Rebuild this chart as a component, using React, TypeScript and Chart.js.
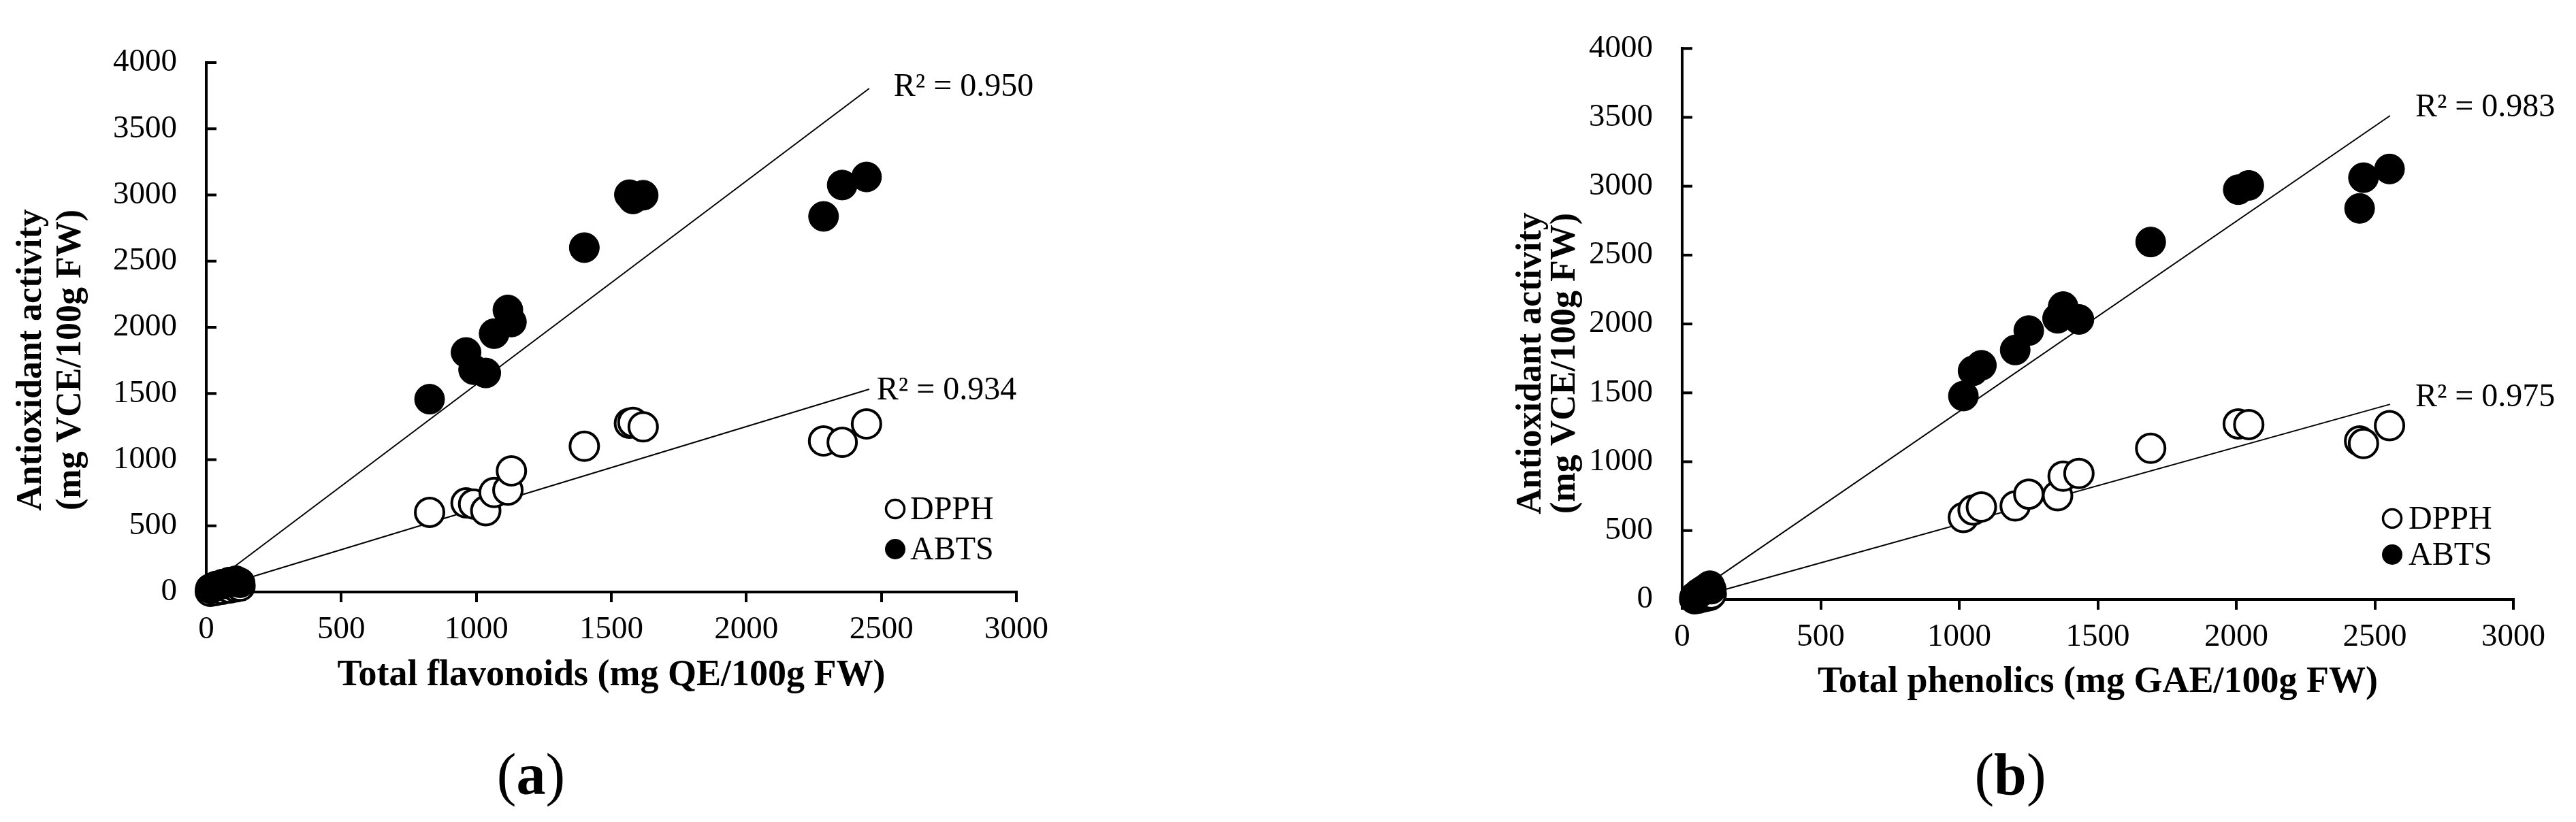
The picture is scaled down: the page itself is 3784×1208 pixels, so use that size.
import React, { useEffect, useRef } from "react";
import { Chart, registerables } from "chart.js";

Chart.register(...registerables);

// ---------------- DATA ----------------
// Panel (a): Total flavonoids (mg QE/100g FW)
const flavX = [15, 35, 60, 85, 110, 125, 827, 962, 990, 1035, 1066, 1117, 1130, 1400, 1567, 1580, 1618, 2286, 2355, 2445];
const flavDPPH = [5, 12, 20, 30, 38, 45, 602, 673, 665, 614, 752, 770, 915, 1101, 1275, 1282, 1248, 1141, 1131, 1270];
const flavABTS = [25, 45, 60, 75, 85, 70, 1457, 1810, 1680, 1655, 1952, 2131, 2040, 2602, 3002, 2970, 2998, 2838, 3075, 3136];
const flavTrendX = [15, 2455];
const flavTrendDPPH = [19, 1532];
const flavTrendABTS = [55, 3805];
const flavR2 = ["0.934", "0.950"]; // DPPH, ABTS

// Panel (b): Total phenolics (mg GAE/100g FW)
const phenX = [45, 60, 75, 90, 100, 105, 1015, 1050, 1080, 1202, 1251, 1355, 1375, 1432, 1691, 2007, 2045, 2445, 2459, 2553];
const phenDPPH = [5, 10, 18, 25, 30, 40, 595, 650, 672, 679, 765, 753, 895, 915, 1098, 1275, 1270, 1151, 1132, 1262];
const phenABTS = [20, 45, 65, 85, 100, 75, 1477, 1660, 1700, 1811, 1952, 2041, 2126, 2033, 2595, 2975, 3006, 2839, 3062, 3125];
const phenTrendX = [45, 2555];
const phenTrendDPPH = [11, 1417];
const phenTrendABTS = [46, 3512];
const phenR2 = ["0.975", "0.983"]; // DPPH, ABTS

const seriesNames = ["DPPH", "ABTS"];
const xTickValues = [0, 500, 1000, 1500, 2000, 2500, 3000];
const yTickValues = [0, 500, 1000, 1500, 2000, 2500, 3000, 3500, 4000];
const yTitleLines = ["Antioxidant activity", "(mg VCE/100g FW)"];
const xTitleA = "Total flavonoids (mg QE/100g FW)";
const xTitleB = "Total phenolics (mg GAE/100g FW)";
const panelLabels = ["a", "b"];

// ---------------- STYLE / LAYOUT ----------------
const FONT = '"Liberation Serif", "Times New Roman", serif';
const H = 1208;

type PanelCfg = {
  left: number;
  width: number;
  padTop: number;
  padRight: number;
  yAxisW: number;
  xAxisH: number;
  xTitlePad: number;
  yTitleDx: number[];
  yTitleDy: number;
  legendDx: number;
  legendDy: number[];
  legendTextDx: number;
  r2Off: number[][]; // [dx, dy] for DPPH, ABTS
};

const cfgA: PanelCfg = {
  left: 0,
  width: 1800,
  padTop: 92,
  padRight: 307,
  yAxisW: 303,
  xAxisH: 338,
  xTitlePad: 183,
  yTitleDx: [-256, -198],
  yTitleDy: -341,
  legendDx: -178,
  legendDy: [-122, -63],
  legendTextDx: 22,
  r2Off: [[11, 15], [36, 11]],
};

const cfgB: PanelCfg = {
  left: 1900,
  width: 1884,
  padTop: 54,
  padRight: 92,
  yAxisW: 571,
  xAxisH: 327,
  xTitlePad: 173,
  yTitleDx: [-221, -171],
  yTitleDy: -347,
  legendDx: -178,
  legendDy: [-119, -66],
  legendTextDx: 24,
  r2Off: [[37, 3], [37, 1]],
};

const pts = (xs: number[], ys: number[]) => xs.map((x, i) => ({ x, y: ys[i] }));

const extrasPlugin = {
  id: "extras",
  beforeDatasetsDraw(chart: any, _args: any, o: any) {
    const { ctx, chartArea, scales } = chart;
    const y = scales.y;
    ctx.save();
    ctx.strokeStyle = "#000";
    ctx.lineWidth = 4;
    for (const t of y.ticks) {
      const py = y.getPixelForValue(t.value);
      ctx.beginPath();
      ctx.moveTo(chartArea.left, py);
      ctx.lineTo(chartArea.left + 15, py);
      ctx.stroke();
    }
    ctx.restore();
  },
  afterDraw(chart: any, _args: any, o: any) {
    const { ctx, chartArea, scales } = chart;
    const xs = scales.x;
    const ys = scales.y;
    ctx.save();
    ctx.fillStyle = "#000";
    // y-axis title (two rotated lines)
    ctx.font = `bold 52px ${FONT}`;
    ctx.textAlign = "center";
    ctx.textBaseline = "middle";
    for (let i = 0; i < o.yLines.length; i++) {
      ctx.save();
      ctx.translate(chartArea.left + o.yTitleDx[i], chartArea.bottom + o.yTitleDy);
      ctx.rotate(-Math.PI / 2);
      ctx.fillText(o.yLines[i], 0, 0);
      ctx.restore();
    }
    // R² labels at the end of each trend line
    ctx.font = `48px ${FONT}`;
    ctx.textAlign = "left";
    ctx.textBaseline = "alphabetic";
    for (let i = 0; i < o.r2.length; i++) {
      const px = xs.getPixelForValue(o.trendEndX);
      const py = ys.getPixelForValue(o.trendEndY[i]);
      ctx.fillText(`R\u00B2 = ${o.r2[i]}`, px + o.r2Off[i][0], py + o.r2Off[i][1]);
    }
    // legend
    for (let i = 0; i < o.names.length; i++) {
      const mx = chartArea.right + o.legendDx;
      const my = chartArea.bottom + o.legendDy[i];
      ctx.beginPath();
      if (i === 0) {
        ctx.arc(mx, my, 13.5, 0, Math.PI * 2);
        ctx.fillStyle = "#fff";
        ctx.fill();
        ctx.lineWidth = 3.5;
        ctx.strokeStyle = "#000";
        ctx.stroke();
      } else {
        ctx.arc(mx, my, 15, 0, Math.PI * 2);
        ctx.fillStyle = "#000";
        ctx.fill();
      }
      ctx.fillStyle = "#000";
      ctx.fillText(o.names[i], mx + o.legendTextDx, my + 15);
    }
    ctx.restore();
  },
};

type PanelProps = {
  cfg: PanelCfg;
  xs: number[];
  dpph: number[];
  abts: number[];
  trendX: number[];
  trendDPPH: number[];
  trendABTS: number[];
  r2: string[];
  xTitle: string;
};

function Panel(p: PanelProps) {
  const ref = useRef<HTMLCanvasElement>(null);
  useEffect(() => {
    const c = p.cfg;
    const chart = new Chart(ref.current as HTMLCanvasElement, {
      type: "scatter",
      data: {
        datasets: [
          {
            label: seriesNames[1],
            data: pts(p.xs, p.abts),
            pointRadius: 22,
            pointBackgroundColor: "#000",
            pointBorderColor: "#000",
            pointBorderWidth: 1,
            order: 1,
            clip: false,
          } as any,
          {
            label: seriesNames[0],
            data: pts(p.xs, p.dpph),
            pointRadius: 21,
            pointBackgroundColor: "#fff",
            pointBorderColor: "#000",
            pointBorderWidth: 4,
            order: 2,
            clip: false,
          } as any,
          {
            label: "ABTS trend",
            data: pts(p.trendX, p.trendABTS),
            showLine: true,
            pointRadius: 0,
            borderColor: "#000",
            borderWidth: 2,
            order: 3,
            clip: false,
          } as any,
          {
            label: "DPPH trend",
            data: pts(p.trendX, p.trendDPPH),
            showLine: true,
            pointRadius: 0,
            borderColor: "#000",
            borderWidth: 2,
            order: 3,
            clip: false,
          } as any,
        ],
      },
      options: {
        responsive: false,
        animation: false,
        devicePixelRatio: 1,
        events: [],
        layout: { padding: { left: 0, top: c.padTop, right: c.padRight, bottom: 0 } },
        plugins: {
          legend: { display: false },
          tooltip: { enabled: false },
          extras: {
            yLines: yTitleLines,
            yTitleDx: c.yTitleDx,
            yTitleDy: c.yTitleDy,
            r2: p.r2,
            r2Off: c.r2Off,
            trendEndX: p.trendX[1],
            trendEndY: [p.trendDPPH[1], p.trendABTS[1]],
            names: seriesNames,
            legendDx: c.legendDx,
            legendDy: c.legendDy,
            legendTextDx: c.legendTextDx,
          },
        } as any,
        scales: {
          x: {
            type: "linear",
            position: "bottom",
            min: xTickValues[0],
            max: xTickValues[xTickValues.length - 1],
            afterBuildTicks: (s: any) => {
              s.ticks = xTickValues.map((v) => ({ value: v }));
            },
            afterFit: (s: any) => {
              s.height = c.xAxisH;
            },
            ticks: {
              callback: (v: any) => String(v),
              font: { family: FONT, size: 47 },
              color: "#000",
              padding: 12,
              maxRotation: 0,
              autoSkip: false,
            },
            grid: {
              display: true,
              drawOnChartArea: false,
              drawTicks: true,
              tickLength: 15,
              tickWidth: 4,
              tickColor: "#000",
              color: "#000",
              lineWidth: 4,
            },
            border: { display: true, color: "#000", width: 4 },
            title: {
              display: true,
              text: p.xTitle,
              color: "#000",
              font: { family: FONT, size: 54, weight: "bold" },
              padding: { top: 0, bottom: c.xTitlePad },
            },
          },
          y: {
            type: "linear",
            position: "left",
            min: yTickValues[0],
            max: yTickValues[yTickValues.length - 1],
            afterBuildTicks: (s: any) => {
              s.ticks = yTickValues.map((v) => ({ value: v }));
            },
            afterFit: (s: any) => {
              s.width = c.yAxisW;
            },
            ticks: {
              callback: (v: any) => String(v),
              font: { family: FONT, size: 47 },
              color: "#000",
              padding: 43,
              autoSkip: false,
            },
            grid: { display: false, drawTicks: false, drawOnChartArea: false },
            border: { display: true, color: "#000", width: 4 },
            title: { display: false },
          },
        },
      } as any,
      plugins: [extrasPlugin as any],
    });
    return () => chart.destroy();
  }, []);
  return (
    <canvas
      ref={ref}
      width={p.cfg.width}
      height={H}
      style={{ position: "absolute", left: p.cfg.left, top: 0, width: p.cfg.width, height: H }}
    />
  );
}

function PanelLabel({ text, x, y }: { text: string; x: number; y: number }) {
  return (
    <div
      style={{
        position: "absolute",
        left: x,
        top: y,
        transform: "translate(-50%, -50%)",
        fontFamily: FONT,
        fontSize: 86,
        lineHeight: 1,
        whiteSpace: "nowrap",
        color: "#000",
      }}
    >
      (<b>{text}</b>)
    </div>
  );
}

export default function App() {
  return (
    <div
      style={{
        position: "absolute",
        left: 0,
        top: 0,
        width: 3784,
        height: H,
        background: "#fff",
        overflow: "hidden",
      }}
    >
      <Panel
        cfg={cfgA}
        xs={flavX}
        dpph={flavDPPH}
        abts={flavABTS}
        trendX={flavTrendX}
        trendDPPH={flavTrendDPPH}
        trendABTS={flavTrendABTS}
        r2={flavR2}
        xTitle={xTitleA}
      />
      <Panel
        cfg={cfgB}
        xs={phenX}
        dpph={phenDPPH}
        abts={phenABTS}
        trendX={phenTrendX}
        trendDPPH={phenTrendDPPH}
        trendABTS={phenTrendABTS}
        r2={phenR2}
        xTitle={xTitleB}
      />
      <PanelLabel text={panelLabels[0]} x={780} y={1138} />
      <PanelLabel text={panelLabels[1]} x={2953} y={1138} />
    </div>
  );
}
